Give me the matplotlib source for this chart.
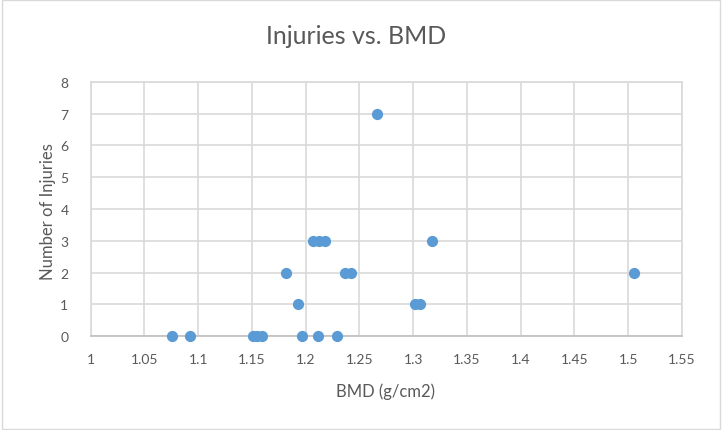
import matplotlib
matplotlib.use("Agg")
import matplotlib.pyplot as plt
import numpy as np

plt.rcParams["font.family"] = ["Lato", "DejaVu Sans"]

# BMD (g/cm2) and number of injuries
bmd = [1.076, 1.092, 1.151, 1.155, 1.159, 1.197, 1.211, 1.229,
       1.193, 1.302, 1.306,
       1.182, 1.237, 1.242, 1.505,
       1.207, 1.212, 1.218, 1.317,
       1.266]
injuries = [0, 0, 0, 0, 0, 0, 0, 0,
            1, 1, 1,
            2, 2, 2, 2,
            3, 3, 3, 3,
            7]

x_ticks = np.arange(1.0, 1.551, 0.05)
x_labels = ["1", "1.05", "1.1", "1.15", "1.2", "1.25", "1.3", "1.35",
            "1.4", "1.45", "1.5", "1.55"]
y_ticks = list(range(0, 9))

TEXT = "#595959"
GRID = "#D9D9D9"
BLUE = "#5B9BD5"

fig = plt.figure(figsize=(7.22, 4.31), dpi=100)
fig.patch.set_facecolor("white")
ax = fig.add_axes([90.7 / 722, 1 - 337.3 / 431, (682 - 90.7) / 722, (337.3 - 82.7) / 431])

ax.scatter(bmd, injuries, s=50, color=BLUE, zorder=3, clip_on=False)

ax.set_xlim(1.0, 1.55)
ax.set_ylim(0, 8)
ax.set_xticks(x_ticks)
ax.set_xticklabels(x_labels)
ax.set_yticks(y_ticks)
ax.grid(True, color=GRID, linewidth=1.2)
ax.set_axisbelow(True)
for side in ["top", "right", "left"]:
    ax.spines[side].set_color(GRID)
    ax.spines[side].set_linewidth(1.2)
ax.spines["bottom"].set_color("#BFBFBF")
ax.spines["bottom"].set_linewidth(1.2)
ax.tick_params(length=0, labelsize=10, labelcolor=TEXT)
ax.tick_params(axis="x", pad=12)
ax.tick_params(axis="y", pad=16)

fig.text(356 / 722, 1 - 36 / 431, "Injuries vs. BMD", fontsize=18, color=TEXT,
         ha="center", va="center")
fig.text(385 / 722, 1 - 392 / 431, "BMD (g/cm2)", fontsize=12, color=TEXT,
         ha="center", va="center")
fig.text(48 / 722, 1 - 212 / 431, "Number of Injuries", fontsize=12, color=TEXT,
         ha="center", va="center", rotation=90)

# light outer border like the chart area frame
fig.add_artist(plt.Rectangle((0.003, 0.003), 0.994, 0.994, transform=fig.transFigure,
                             fill=False, edgecolor="#D9D9D9", linewidth=1))

fig.savefig("out.png", dpi=100)
